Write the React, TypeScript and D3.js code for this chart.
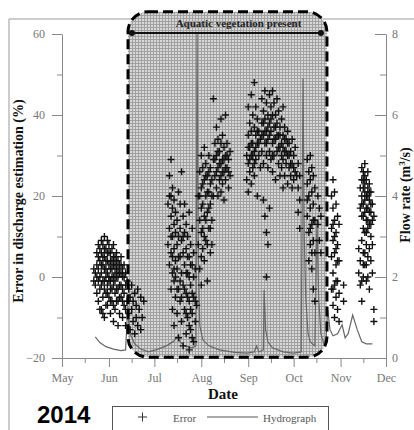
import * as d3 from 'd3';
import React, { useEffect, useRef } from 'react';

// error points: [day of year 2014, error %]
const errorPoints: [number, number][] = [
  // late May - June cluster
  [142,2],[142,-1],[143,1],[143,-2],[144,3],[144,0],[144,-4],[144,6],[145,5],[145,2],[145,-1],[145,-6],[145,8],
  [146,7],[146,4],[146,0],[146,-3],[146,-8],[147,9],[147,6],[147,1],[147,-2],[147,-8],[147,3],
  [148,8],[148,3],[148,-1],[148,-5],[148,5],[148,-9],[149,10],[149,5],[149,2],[149,-3],[149,-10],[149,7],[149,-1],
  [150,7],[150,4],[150,0],[150,-4],[150,2],[150,-7],[151,9],[151,6],[151,1],[151,-2],[151,-7],[151,4],[151,-4],
  [152,8],[152,3],[152,-1],[152,-5],[152,6],[152,0],[153,6],[153,2],[153,-3],[153,-9],[153,4],[153,-1],[153,-6],
  [154,7],[154,4],[154,0],[154,-6],[154,2],[154,-3],[155,8],[155,3],[155,-2],[155,-11],[155,5],[155,0],[155,-7],
  [156,5],[156,1],[156,-4],[156,-8],[156,3],[156,-1],[157,6],[157,2],[157,-3],[157,4],[157,0],[157,-6],
  [158,4],[158,0],[158,-6],[158,-12],[158,2],[158,-3],[159,3],[159,-2],[159,-9],[159,1],[159,-5],
  [160,5],[160,1],[160,-5],[160,3],[160,-2],[161,2],[161,-3],[161,-10],[161,0],[161,-6],
  [162,0],[162,-7],[162,3],[162,-4],[163,-2],[163,-12],[163,1],[163,-8],
  [164,-1],[164,-6],[165,-3],[165,-9],[166,-5],[166,-13],[167,-2],[167,-8],[168,-6],[168,-11],[169,-4],[169,-14],
  [170,-7],[170,-10],[171,-3],[171,-12],[172,-8],[173,-5],[173,-13],[174,-10],[175,-6],
  // July
  [191,18],[191,8],[192,25],[192,12],[192,3],[192,20],[193,29],[193,20],[193,15],[193,6],[193,-3],[193,10],
  [194,22],[194,17],[194,10],[194,1],[194,-8],[194,5],[195,19],[195,13],[195,7],[195,-1],[195,-12],[195,2],
  [196,16],[196,11],[196,4],[196,-5],[196,0],[197,14],[197,8],[197,2],[197,-9],[197,-3],
  [198,21],[198,10],[198,-3],[198,-15],[198,5],[199,12],[199,5],[199,-6],[199,-1],[199,18],
  [200,26],[200,9],[200,1],[200,-11],[200,-5],[201,15],[201,6],[201,-2],[201,-17],[201,10],
  [202,18],[202,11],[202,3],[202,-8],[202,-3],[203,13],[203,7],[203,-4],[203,-14],[203,1],[203,-9],
  [204,10],[204,1],[204,-10],[204,5],[204,-5],[205,16],[205,5],[205,-6],[205,-18],[205,0],[205,-12],
  [206,8],[206,-2],[206,-13],[206,3],[206,-8],[207,12],[207,3],[207,-9],[207,-4],[207,-15],
  [208,6],[208,-5],[208,-16],[208,0],[209,2],[209,-11],[209,-6],[210,-7],
  // August
  [211,20],[211,8],[212,26],[212,14],[212,2],[212,20],[213,30],[213,22],[213,11],[213,-2],[213,17],[213,5],
  [214,27],[214,18],[214,7],[214,23],[214,12],[215,32],[215,24],[215,15],[215,4],[215,10],
  [216,28],[216,20],[216,9],[216,25],[216,14],[217,25],[217,16],[217,-1],[217,21],[217,8],
  [218,30],[218,21],[218,12],[218,26],[218,17],[219,27],[219,18],[219,6],[219,23],[219,12],
  [220,24],[220,14],[220,20],[220,8],[221,44],[221,29],[221,20],[222,33],[222,25],[222,29],
  [223,37],[223,30],[223,22],[223,26],[224,34],[224,27],[224,20],[224,31],[225,31],[225,24],[225,28],
  [226,39],[226,33],[226,28],[226,21],[226,25],[227,35],[227,29],[227,23],[227,26],
  [228,32],[228,26],[228,19],[228,29],[229,40],[229,30],[229,24],[229,27],[230,33],[230,27],[230,30],
  [231,29],[231,22],[231,26],[232,31],[232,25],
  // September
  [243,30],[243,24],[244,42],[244,35],[244,28],[244,21],[244,32],[245,38],[245,32],[245,26],[245,29],
  [246,45],[246,36],[246,30],[246,23],[246,33],[247,40],[247,33],[247,27],[247,30],
  [248,48],[248,37],[248,31],[248,25],[248,28],[249,42],[249,35],[249,29],[249,32],
  [250,39],[250,33],[250,20],[250,36],[251,36],[251,30],[251,33],[252,34],[252,27],
  [253,44],[253,38],[253,31],[253,35],[254,41],[254,35],[254,28],[254,19],[254,38],
  [255,46],[255,39],[255,33],[255,15],[255,36],[256,43],[256,36],[256,30],[256,11],[256,0],[256,33],
  [257,40],[257,34],[257,27],[257,8],[257,37],[258,45],[258,38],[258,31],[258,17],[258,35],
  [259,42],[259,36],[259,29],[259,39],[260,46],[260,40],[260,33],[260,26],[260,30],
  [261,43],[261,37],[261,30],[261,34],[262,40],[262,34],[262,24],[262,37],
  [263,44],[263,38],[263,31],[263,35],[264,41],[264,35],[264,28],[264,32],[265,37],[265,32],[265,25],[265,35],
  [266,39],[266,33],[266,27],[266,30],[267,42],[267,35],[267,29],[267,22],[267,32],
  [268,37],[268,31],[268,25],[268,34],[269,34],[269,28],[269,31],[270,36],[270,30],[270,23],[270,33],
  [271,33],[271,27],[271,30],[272,31],[272,25],[272,28],[273,34],[273,28],[273,22],[274,30],[274,24],[274,27],
  [275,32],[275,26],[276,25],
  [277,28],[277,22],[277,16],[278,25],[278,19],[278,12],
  [283,29],[283,23],[283,15],[283,19],[284,26],[284,20],[284,11],[284,4],[285,30],[285,24],[285,17],[285,8],[285,12],
  [286,27],[286,21],[286,13],[286,2],[286,6],[287,25],[287,18],[287,9],[287,-3],[287,14],[288,22],[288,14],[288,6],[288,-6],
  [290,20],[290,13],[291,17],[291,9],[292,15],[292,6],
  // November
  [299,20],[299,12],[299,5],[299,-3],[300,24],[300,17],[300,9],[300,1],[300,-7],[300,13],[300,-3],
  [301,21],[301,14],[301,6],[301,-2],[301,-10],[301,10],[302,18],[302,11],[302,3],[302,-5],[302,7],[302,-1],
  [303,15],[303,8],[303,-1],[303,-8],[303,4],[304,13],[304,4],[304,-4],[304,-11],[307,-2],[307,-6],
  [317,7],[317,1],[318,22],[318,17],[318,4],[318,-2],[319,27],[319,24],[319,20],[319,15],[319,9],[319,-6],[319,18],[319,-1],
  [320,26],[320,22],[320,18],[320,12],[320,6],[320,0],[320,24],[320,15],[320,3],
  [321,28],[321,25],[321,21],[321,16],[321,11],[321,3],[321,19],[321,23],[321,6],
  [322,24],[322,20],[322,14],[322,8],[322,-1],[322,17],[322,11],[322,3],
  [323,26],[323,22],[323,17],[323,12],[323,5],[323,20],[323,14],[323,0],
  [324,23],[324,19],[324,13],[324,7],[324,-3],[324,16],[324,21],[325,21],[325,16],[325,10],[325,4],[325,18],[325,13],
  [326,18],[326,14],[326,8],[326,1],[327,15],[327,-8],[327,-11],
];

// hydrograph: [day of year 2014, flow m3/s]
const hydroPoints: [number, number][] = [
  [143,0.52],[146,0.38],[150,0.28],[155,0.22],[160,0.18],[163,0.2],[164.5,1.3],[165,0.9],[166,0.6],[169,0.35],
  [173,0.22],[178,0.15],[183,0.2],[190,0.3],[195,0.42],[197.5,0.55],[199,0.4],[202,0.3],[207,0.25],[209.5,0.3],
  [210.2,8.0],[211,2.5],[212,0.8],[214,0.45],[218,0.3],[225,0.2],[235,0.14],[243,0.12],[248,0.15],[249.5,0.3],
  [251,0.15],[254,0.2],[254.5,1.68],[255.5,0.7],[257,0.4],[260,0.25],[267,0.15],[274,0.12],[279,0.15],
  [280.2,6.9],[281,3],[282,1.5],[283.5,0.6],[285,0.4],[288,0.3],[289.4,3.4],[290.5,1.5],[292,0.6],[294,0.35],
  [295.5,0.5],[296.5,1.2],[298,0.7],[300,0.55],[303,0.6],[306,0.82],[308,0.5],[310,0.6],[313,1.06],[316,0.7],
  [319,0.4],[322,0.35],[326,0.35],
];

const monthTicks = ["May", "Jun", "Jul", "Aug", "Sep", "Oct", "Nov", "Dec"];
const errorTicks = [-20, 0, 20, 40, 60];
const errorMinor = [-10, 10, 30, 50];
const flowTicks = [0, 2, 4, 6, 8];
const flowMinor = [1, 3, 5, 7];
const vegStartDoy = 164.6;
const vegEndDoy = 296;

const doyDate = (d: number) => new Date(new Date(2014, 0, 1).getTime() + (d - 1) * 86400000);
const serif = "'Liberation Serif', 'Times New Roman', serif";

const App = () => {
  const chartRef = useRef<SVGSVGElement>(null);

  useEffect(() => {
    const svg = d3.select(chartRef.current);
    svg.selectAll("*").remove();

    const x = d3.scaleTime().domain([new Date(2014, 4, 1), new Date(2014, 11, 1)]).range([62, 386]);
    const y = d3.scaleLinear().domain([-20, 60]).range([358, 34]);
    const yFlow = d3.scaleLinear().domain([0, 8]).range([358, 34]);

    // hatched fill for vegetation period
    const pat = svg.append("defs").append("pattern")
      .attr("id", "veg").attr("width", 3).attr("height", 3)
      .attr("patternUnits", "userSpaceOnUse");
    pat.append("rect").attr("width", 3).attr("height", 3).attr("fill", "#d8d8d8");
    pat.append("rect").attr("width", 3).attr("height", 1).attr("fill", "#a0a0a0");
    pat.append("rect").attr("width", 1).attr("height", 3).attr("fill", "#a0a0a0");

    // outer frame
    svg.append("path").attr("d", "M9,430 V19 H414")
      .attr("fill", "none").attr("stroke", "#999").attr("stroke-width", 1);

    const x0 = x(doyDate(vegStartDoy));
    const x1 = x(doyDate(vegEndDoy));
    svg.append("rect")
      .attr("x", x0).attr("y", y(65.5)).attr("width", x1 - x0).attr("height", y(-19.8) - y(65.5))
      .attr("rx", 20).attr("fill", "url(#veg)");

    // axes
    const styleAxis = (g: any) => {
      g.selectAll("path,line").attr("stroke", "#888");
      g.selectAll("text").attr("fill", "#777").style("font-family", serif).style("font-size", "12px");
    };
    svg.append("g").attr("transform", "translate(62,0)")
      .call(d3.axisLeft(y).tickValues(errorTicks).tickSize(10).tickSizeOuter(0).tickPadding(7))
      .call(styleAxis);
    svg.append("g").attr("transform", "translate(62,0)")
      .call(d3.axisLeft(y).tickValues(errorMinor).tickSize(5).tickFormat(() => ""))
      .call(styleAxis).select(".domain").remove();

    svg.append("g").attr("transform", "translate(386,0)")
      .call(d3.axisRight(yFlow).tickValues(flowTicks).tickSizeInner(-11).tickSizeOuter(0).tickPadding(6))
      .call(styleAxis);
    svg.append("g").attr("transform", "translate(386,0)")
      .call(d3.axisRight(yFlow).tickValues(flowMinor).tickSizeInner(-6).tickFormat(() => ""))
      .call(styleAxis).select(".domain").remove();

    const months = monthTicks.map((_, i) => new Date(2014, 4 + i, 1));
    const halfMonths = months.slice(0, -1).map(m => new Date(m.getFullYear(), m.getMonth(), 16));
    svg.append("g").attr("transform", "translate(0,358)")
      .call(d3.axisBottom(x).tickValues(months).tickSize(9).tickSizeOuter(0).tickPadding(6)
        .tickFormat((_, i) => monthTicks[i]))
      .call(styleAxis);
    svg.append("g").attr("transform", "translate(0,358)")
      .call(d3.axisBottom(x).tickValues(halfMonths).tickSize(5).tickFormat(() => ""))
      .call(styleAxis).select(".domain").remove();

    // hydrograph
    const line = d3.line<[number, number]>()
      .x(d => x(doyDate(d[0])))
      .y(d => yFlow(d[1]));
    svg.append("path").datum(hydroPoints)
      .attr("d", line).attr("fill", "none").attr("stroke", "#666").attr("stroke-width", 1.2);

    // error markers
    svg.append("g").selectAll("path").data(errorPoints).enter().append("path")
      .attr("transform", d => `translate(${x(doyDate(d[0]))},${y(d[1])})`)
      .attr("d", "M-3.5,0H3.5M0,-3.5V3.5")
      .attr("stroke", "#111").attr("stroke-width", 1.4);

    // dashed border of vegetation period
    svg.append("rect")
      .attr("x", x0).attr("y", y(65.5)).attr("width", x1 - x0).attr("height", y(-19.8) - y(65.5))
      .attr("rx", 20).attr("fill", "none").attr("stroke", "#000")
      .attr("stroke-width", 3).attr("stroke-dasharray", "10,5");

    // arrow
    const ax0 = x0 + 4, ax1 = x1 - 6;
    svg.append("line").attr("x1", ax0).attr("x2", ax1).attr("y1", y(60) - 1).attr("y2", y(60) - 1)
      .attr("stroke", "#111").attr("stroke-width", 2);
    [ax0, ax1].forEach(cx => svg.append("circle").attr("cx", cx).attr("cy", y(60) - 1).attr("r", 3).attr("fill", "#111"));
    svg.append("text").attr("x", (ax0 + ax1) / 2 + 12).attr("y", 27).attr("text-anchor", "middle")
      .style("font-family", serif).style("font-size", "11px").style("font-weight", "bold").attr("fill", "#222")
      .text("Aquatic vegetation present");

    // titles
    svg.append("text").attr("transform", "translate(23,201) rotate(-90)").attr("text-anchor", "middle")
      .style("font-family", serif).style("font-size", "14px").style("font-weight", "bold").attr("fill", "#111")
      .text("Error in discharge estimation (%)");
    const ft = svg.append("text").attr("transform", "translate(410,195) rotate(-90)").attr("text-anchor", "middle")
      .style("font-family", serif).style("font-size", "14px").style("font-weight", "bold").attr("fill", "#111");
    ft.append("tspan").text("Flow rate (m");
    ft.append("tspan").attr("font-size", "9px").attr("dy", -5).text("3");
    ft.append("tspan").attr("dy", 5).text("/s)");
    svg.append("text").attr("x", 223).attr("y", 399).attr("text-anchor", "middle")
      .style("font-family", serif).style("font-size", "15px").style("font-weight", "bold").attr("fill", "#111")
      .text("Date");

    svg.append("text").attr("x", 37).attr("y", 423)
      .style("font-family", "'Liberation Sans', Arial, sans-serif").style("font-size", "24px").style("font-weight", "bold")
      .attr("fill", "#000").text("2014");

    // legend
    svg.append("rect").attr("x", 112.5).attr("y", 406.5).attr("width", 216).attr("height", 30)
      .attr("fill", "#fff").attr("stroke", "#555");
    svg.append("path").attr("d", "M138,417H147M142.5,412.5V421.5").attr("stroke", "#333").attr("stroke-width", 1);
    svg.append("text").attr("x", 173).attr("y", 422)
      .style("font-family", serif).style("font-size", "11px").attr("fill", "#555").text("Error");
    svg.append("line").attr("x1", 207).attr("x2", 258).attr("y1", 417).attr("y2", 417).attr("stroke", "#555");
    svg.append("text").attr("x", 263).attr("y", 422)
      .style("font-family", serif).style("font-size", "11px").attr("fill", "#555").text("Hydrograph");
  }, []);

  return (
    <svg ref={chartRef} width={414} height={430}
      style={{ position: 'absolute', left: 0, top: 0, background: '#fff' }} />
  );
};

export default App;
